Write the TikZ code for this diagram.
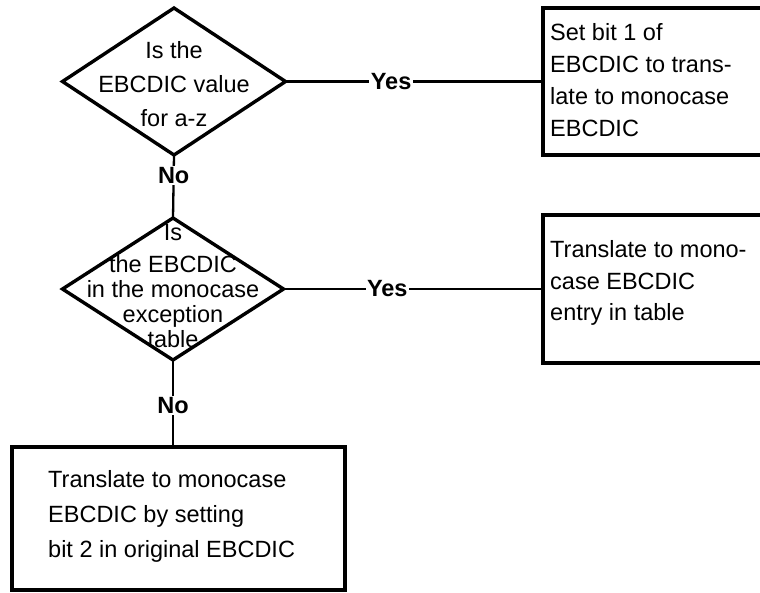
\documentclass[tikz,border=0pt]{standalone}
\usepackage{fontspec}
\setmainfont{Liberation Sans}
\usetikzlibrary{shapes.geometric}
\begin{document}
\begin{tikzpicture}[x=1pt,y=-1pt,
  shapeline/.style={line width=3.4pt},
  conn/.style={line width=2.3pt},
  dia/.style={diamond, draw, shapeline, inner sep=0pt, outer sep=0pt},
  boxnode/.style={draw, shapeline, rectangle, inner sep=0pt, outer sep=0pt, anchor=north west},
  txt/.style={font=\fontsize{23.5}{32}\selectfont, align=left, inner sep=0pt},
  ctxt/.style={font=\fontsize{23.5}{34}\selectfont, align=center, inner sep=0pt},
  lab/.style={font=\fontsize{23.5}{28}\selectfont\bfseries, fill=white, inner sep=1.5pt}]
\clip (0,0) rectangle (760,592);
\useasboundingbox (0,0) rectangle (760,592);

% decisions
\node[dia, minimum width=223pt, minimum height=147pt] (d1) at (174,81.5) {};
\node[ctxt] (td1) at (174,84) {Is the\\EBCDIC value\\for a-z};

\node[dia, minimum width=221pt, minimum height=142pt] (d2) at (173,289) {};
\node[ctxt, font=\fontsize{23.5}{25}\selectfont] (td2) at (173,286) {Is\\[7pt]the EBCDIC\\in the monocase\\exception\\table};

% process boxes
\node[boxnode, minimum width=260pt, minimum height=147pt] (b1) at (543,8) {};
\node[txt, anchor=west] (tb1) at (550,80.5) {Set bit 1 of\\EBCDIC to trans-\\late to monocase\\EBCDIC};

\node[boxnode, minimum width=260pt, minimum height=148pt] (b2) at (543,215) {};
\node[txt, anchor=west, font=\fontsize{23.5}{31.5}\selectfont] (tb2) at (550,283) {Translate to mono-\\case EBCDIC\\entry in table};

\node[boxnode, minimum width=333pt, minimum height=143pt] (b3) at (12,447) {};
\node[txt, anchor=west, font=\fontsize{23.5}{35}\selectfont] (tb3) at (48,516) {Translate to monocase\\EBCDIC by setting\\bit 2 in original EBCDIC};

% connectors
\draw[conn] (d1.east) -- node[lab, pos=0.41] (yes1) {Yes} (b1.west |- d1.east);
\draw[conn] (d2.east) -- node[lab, pos=0.40] (yes2) {Yes} (b2.west |- d2.east);
\draw[conn] (d1.south) -- node[lab, pos=0.33] (no1) {No} (d2.north);
\draw[conn] (d2.south) -- node[lab, pos=0.52] (no2) {No} (d2.south |- b3.north);
\end{tikzpicture}
\end{document}
